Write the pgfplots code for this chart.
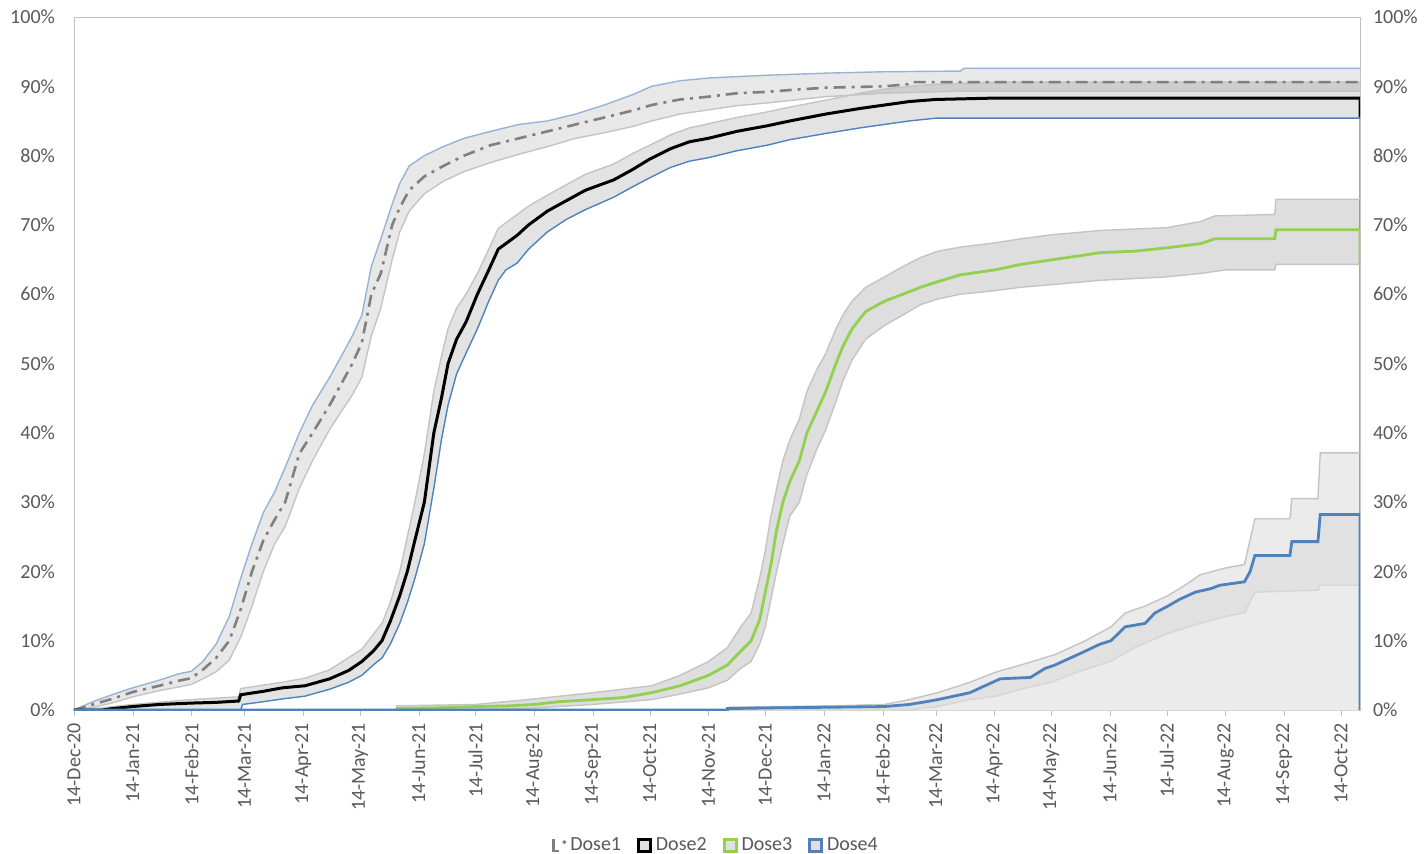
\documentclass[border=0pt]{standalone}
\usepackage{fontspec}
\setmainfont{Carlito}
\usepackage{pgfplots}
\usepackage{pgfplotstable}
\pgfplotsset{compat=1.18}
\definecolor{ticktxt}{HTML}{595959}
\definecolor{axisgray}{HTML}{BFBFBF}
\definecolor{lblue}{HTML}{95B3D7}
\definecolor{dblue}{HTML}{4F81BD}
\definecolor{dgreen}{HTML}{92D050}
\definecolor{bgray}{HTML}{C4C4C4}
\definecolor{dashgray}{HTML}{808080}

\pgfplotstableread{
x y
0 0
10 1.2
20 2.2
31 3.2
45 4.3
55 5.2
62 5.6
68 7
75 9.5
82 13.5
88 19
94 24
100 28.5
106 31.5
111.5 35
119 40
126 44
135 48
147 54
152 57
157 64
162 68
168 73
172 76
177 78.5
185 80
195 81.3
206 82.5
220 83.5
235 84.5
250 85
265 86
280 87.3
295 88.8
305 90
320 90.8
335 91.2
350 91.4
366 91.6
397 91.9
428 92.1
468 92.2
470 92.6
679 92.6
}\dOneU
\pgfplotstableread{
x y
0 0
10 0.4
20 1
31 1.9
45 2.8
55 3.3
62 3.7
68 4.5
75 5.5
82 7.2
88 10.5
94 15
100 20
106 24
111.5 26.5
119 32
126 36
135 40.5
147 45.5
152 48
157 54
162 58
168 65
172 69
177 72
185 74.5
195 76.3
206 77.7
220 79
235 80.2
250 81.3
265 82.5
280 83.3
295 84.2
305 85
320 86
335 86.6
350 87.2
366 87.6
397 88.5
428 89
468 89.3
679 89.3
}\dOneL
\pgfplotstableread{
x y
0 0
10 0.8
20 1.6
31 2.6
45 3.5
55 4.2
62 4.6
68 5.8
75 7.5
82 10
88 14.5
94 20
100 24.5
106 27.5
111.5 30
119 37
126 40
135 44
147 50
152 53
157 60
162 63
168 70
172 72.5
177 75
185 77
195 78.5
206 80
220 81.5
235 82.5
250 83.5
265 84.5
280 85.5
295 86.5
305 87.3
320 88.1
335 88.5
350 89
366 89.2
380 89.5
397 89.8
428 90
440 90.3
441 90.6
679 90.6
}\dOneC
\pgfplotstableread{
x y
0 0
15 0.3
31 0.8
62 1.5
87 1.9
88 3.1
110 4
122 4.6
135 5.8
152 8.8
162.6 12.5
167 15.5
172 20
176 25
180 30
185 37
190 46
194 51
197.5 55
202 58
207 60
213 63
219 66.5
224 69.5
234 71.5
240 72.7
250 74.3
260 75.8
270 77.3
285 78.8
295 80.3
304 81.5
315 83
325 84
335 84.6
350 85.5
366 86.3
378 87
397 88
415 89
428 89.6
441 90
455 90.3
486 90.6
679 90.6
}\dTwoU
\pgfplotstableread{
x y
0 0
88 0
89 0.8
100 1.2
110 1.6
122 2
135 3
145 4
152 5
158 6.5
162.6 7.5
167 9.5
172 12.5
176 15.5
180 19
185 24
190 32
194 39
197.5 44
202 48.5
207 51.5
213 55
219 59
224 62
228 63.5
234 64.5
240 66.5
250 69
260 70.8
270 72.2
285 74
295 75.5
304 76.8
315 78.3
325 79.2
335 79.7
350 80.7
366 81.5
378 82.3
397 83.2
415 84
428 84.5
441 85
455 85.4
679 85.4
679 0
}\dTwoL
\pgfplotstableread{
x y
0 0
15 0
20 0.2
31 0.5
45 0.8
62 1.0
75 1.1
87 1.3
88 2.2
100 2.7
110 3.2
122 3.5
135 4.5
145 5.7
152 7
158 8.5
162.6 10
167 12.8
172 16.5
176 20
180 24.5
185 30
190 40
194 45
197.5 50
202 53.5
207 56
213 60
219 63.5
224 66.5
228 67.3
234 68.5
240 70
250 72
260 73.5
270 75
285 76.5
295 78
304 79.5
315 81
325 82
335 82.5
350 83.5
366 84.3
378 85
397 86
415 86.8
428 87.3
441 87.8
455 88.1
486 88.3
679 88.3
679 85.5
}\dTwoC
\pgfplotstableread{
x y
170 0.6
212 0.8
243 1.6
274 2.5
305 3.5
320 5
335 7
345 9
352 12
357.5 14
362 19
365 23
368 28
371 32
374.3 36
378 39
383 42
387 46
392 49
397 51.5
402.3 55
406 57
410.8 59
418 61
428 62.5
437.7 64
447 65.3
456 66.2
468 66.8
486 67.4
500 68
517 68.6
530 68.9
541.7 69.2
577 69.6
595 70.5
602.4 71.3
634 71.5
634.6 73.7
679 73.7
}\dThreeU
\pgfplotstableread{
x y
170 0
212 0.1
243 0.3
274 0.8
305 1.5
320 2.3
335 3.2
345 4.3
352 6
357.5 7
362 9.5
365 12
368 16
371 20
374.3 24
378 28
383 30
387 34
392 37.5
397 40.5
402.3 44.5
406 47.5
410.8 50.5
418 53.5
428 55.5
437.7 57
447 58.5
456 59.3
468 60
486 60.5
500 61
517 61.4
541.7 62
577 62.5
595 63
608 63.5
634 63.5
634.6 64.3
679 64.3
}\dThreeL
\pgfplotstableread{
x y
170 0.2
190 0.3
212 0.5
230 0.6
243 0.8
256 1.2
274 1.5
290 1.8
305 2.5
320 3.5
335 5
345 6.5
352 8.5
357.5 10
362 13
365 17
368 21
371 26
374.3 30
378 33
383 36
387 40
392 43
397 46
402.3 50
406 52.5
410.8 55
418 57.5
428 59
437.7 60
447 61
456 61.8
468 62.8
486 63.5
500 64.3
517 65
530 65.5
541.7 66
560 66.2
577 66.7
595 67.3
602.4 68
634 68
634.6 69.3
679 69.3
679 64.3
}\dThreeC
\pgfplotstableread{
x y
345 0.4
400 0.6
428 0.8
441 1.5
456 2.5
473 4
487 5.5
500 6.5
518 8
534 10
547.5 12
555 14
565.5 15
577.6 16.5
586.6 18
594.5 19.5
608 20.5
618 21
623.5 27.6
642 27.6
643 30.5
656.8 30.5
658 37.1
679 37.1
}\dFourU
\pgfplotstableread{
x y
345 0
440 0
456 0.5
473 1.5
487 2
500 3
516 4
530 5.5
547 7
560 9
577 11
594.5 12.5
608 13.5
618 14
623.5 17
657 17.3
658 18
679 18
}\dFourL
\pgfplotstableread{
x y
0 0
345 0
345 0.2
366 0.3
400 0.4
428 0.5
441 0.8
450 1.2
456 1.5
468 2.2
473 2.5
481 3.5
489 4.5
505 4.7
512.7 6
518 6.5
526 7.5
534 8.5
541.7 9.5
547.5 10
555 12
565.5 12.5
570.7 14
577.6 15
584 16
592 17
600 17.5
605 18
618 18.5
621 20
623.5 22.3
642 22.3
643 24.3
656.8 24.3
658 28.2
679 28.2
679 0
}\dFourC

\begin{document}
\begin{tikzpicture}[font=\fontsize{10}{12}\selectfont]
\path[use as bounding box] (-37pt,-71.5pt) rectangle (675pt,355pt);
\begin{axis}[
  at={(0,0)}, anchor=south west, scale only axis,
  width=643pt, height=346.5pt,
  xmin=0, xmax=679, ymin=0, ymax=100,
  axis line style={draw=axisgray},
  xtick={0,31,62,90,121,151,182,212,243,274,304,335,365,396,427,455,486,516,547,577,608,639,669},
  xticklabels={14-Dec-20,14-Jan-21,14-Feb-21,14-Mar-21,14-Apr-21,14-May-21,14-Jun-21,14-Jul-21,14-Aug-21,14-Sep-21,14-Oct-21,14-Nov-21,14-Dec-21,14-Jan-22,14-Feb-22,14-Mar-22,14-Apr-22,14-May-22,14-Jun-22,14-Jul-22,14-Aug-22,14-Sep-22,14-Oct-22},
  xtick pos=left, ytick pos=left,
  tick align=outside,
  major tick length=3pt,
  xtick style={draw=axisgray},
  ytick style={draw=none},
  ytick={0,10,...,100},
  yticklabel={\pgfmathprintnumber{\tick}\%},
  yticklabel style={text=ticktxt, xshift=-3pt},
  xticklabel style={rotate=90, anchor=east, text=ticktxt},
  /pgf/number format/assume math mode=true,
  legend columns=4,
  legend style={at={(0.5,-0.195)}, anchor=center, draw=none, fill=none,
    text=ticktxt, font=\fontsize{10}{12}\selectfont,
    /tikz/every even column/.append style={column sep=6pt}},
]
% ---- band fills
\addplot[fill=black!9, draw=none, forget plot] table {\dOneU} \closedcycle;
\addplot[fill=white, draw=none, forget plot] table {\dOneL} \closedcycle;
\addplot[fill=black, fill opacity=0.11, draw=none, forget plot] table {\dTwoU} \closedcycle;
\addplot[fill=white, draw=none, forget plot] table {\dTwoL} \closedcycle;
\addplot[fill=black!13, draw=none, forget plot] table {\dThreeU} \closedcycle;
\addplot[fill=white, draw=none, forget plot] table {\dThreeL} \closedcycle;
\addplot[fill=black!8, draw=none, forget plot] table {\dFourU} \closedcycle;
\addplot[fill=black, fill opacity=0.04, draw=none, forget plot] table {\dFourC} \closedcycle;
\addplot[fill=black!8, draw=none, forget plot] table {\dFourL} \closedcycle;
% ---- band edges
\addplot[lblue, line width=0.7pt, forget plot] table {\dOneU};
\addplot[bgray, line width=0.7pt, forget plot] table {\dOneL};
\addplot[bgray, line width=0.7pt, forget plot] table {\dTwoU};
\addplot[dblue, line width=0.7pt, forget plot] table {\dTwoL};
\addplot[bgray, line width=0.7pt, forget plot] table {\dThreeU};
\addplot[bgray, line width=0.7pt, forget plot] table {\dThreeL};
\addplot[bgray, line width=0.7pt, forget plot] table {\dFourU};
\addplot[black!16, line width=0.7pt, forget plot] table {\dFourL};
% ---- centre lines
\addplot[dashgray, line width=1.3pt, dash pattern=on 6pt off 3pt on 1.5pt off 3pt, forget plot] table {\dOneC};
\addplot[black, line width=1.5pt, forget plot] table {\dTwoC};
\addplot[dgreen, line width=1.4pt, forget plot] table {\dThreeC};
\addplot[dblue, line width=1.4pt, forget plot] table {\dFourC};
% ---- legend
\addlegendimage{legend image code/.code={\draw[dashgray,line width=1.2pt] (0pt,3pt) -- (0pt,-3pt) -- (3pt,-3pt); \fill[dashgray] (5.5pt,1.5pt) circle (0.8pt);}}
\addlegendentry{Dose1}
\addlegendimage{legend image code/.code={\draw[black,line width=1.4pt,fill=black!12] (0pt,-3pt) rectangle (6pt,3pt);}}
\addlegendentry{Dose2}
\addlegendimage{legend image code/.code={\draw[dgreen,line width=1.4pt,fill=black!12] (0pt,-3pt) rectangle (6pt,3pt);}}
\addlegendentry{Dose3}
\addlegendimage{legend image code/.code={\draw[dblue,line width=1.4pt,fill=black!12] (0pt,-3pt) rectangle (6pt,3pt);}}
\addlegendentry{Dose4}
\end{axis}
\begin{axis}[
  at={(0,0)}, anchor=south west, scale only axis,
  width=643pt, height=346.5pt,
  xmin=0, xmax=679, ymin=0, ymax=100,
  axis x line=none, axis y line*=right,
  axis line style={draw=none},
  ytick={0,10,...,100},
  ytick style={draw=none},
  yticklabel={\pgfmathprintnumber{\tick}\%},
  yticklabel style={text=ticktxt, xshift=3pt},
  /pgf/number format/assume math mode=true,
]
\addplot[draw=none] coordinates {(0,0) (679,100)};
\end{axis}
\end{tikzpicture}
\end{document}
